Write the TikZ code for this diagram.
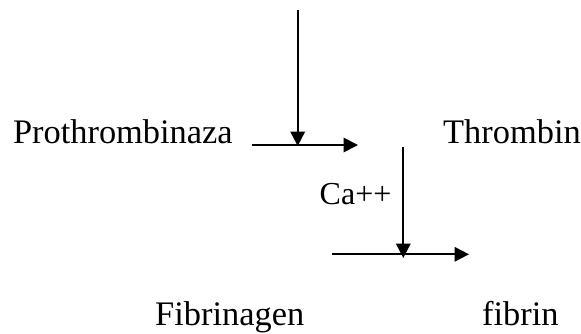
\documentclass[tikz,border=0pt]{standalone}
\usepackage{fontspec}
\setmainfont{Liberation Serif}
\usetikzlibrary{arrows.meta}
\begin{document}
\begin{tikzpicture}[x=1pt,y=-1pt,
  lbl/.style={anchor=base west,inner sep=0pt,font=\fontsize{34.4}{40}\selectfont},
  smalllbl/.style={anchor=base west,inner sep=0pt,font=\fontsize{32}{38}\selectfont},
  arr/.style={line width=1.9pt,-{Triangle[length=14.5pt,width=14.5pt]}}]
\useasboundingbox (0,0) rectangle (581,333);
\node[lbl] (pro) at (12.8,143) {Prothrombinaza};
\node[lbl] (thr) at (443,143) {Thrombin};
\node[smalllbl] (ca) at (319.5,204) {Ca++};
\node[lbl] (fbg) at (155,325) {Fibrinagen};
\node[lbl] (fbn) at (482,325) {fibrin};
\coordinate (v1s) at (297.7,10);
\coordinate (v1e) at (297.7,146);
\coordinate (h1s) at (252,145);
\coordinate (h1e) at (358,145);
\coordinate (v2s) at (403.3,147);
\coordinate (v2e) at (403.3,258);
\coordinate (h2s) at (332,254.3);
\coordinate (h2e) at (469,254.3);
\draw[arr] (h1s) -- (h1e);
\draw[arr] (v1s) -- (v1e);
\draw[arr] (h2s) -- (h2e);
\draw[arr] (v2s) -- (v2e);
\end{tikzpicture}
\end{document}
